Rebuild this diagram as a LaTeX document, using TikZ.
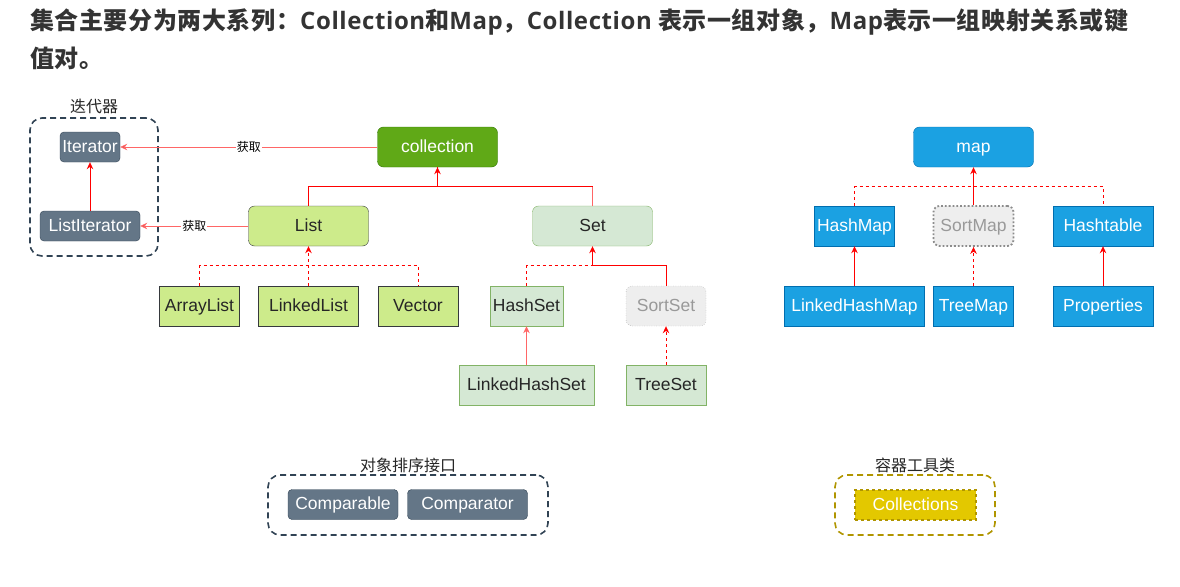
\documentclass[tikz,border=0pt]{standalone}
\usepackage{fontspec}
\setmainfont{Liberation Sans}
\newfontfamily\cjk{Noto Sans CJK SC}
\newfontfamily\titlecjk{Noto Sans CJK SC}[LetterSpace=2.5]
\newfontfamily\titlelatin{Open Sans}[LetterSpace=2.5]
\newcommand\titlelat[1]{{\titlelatin\bfseries #1}}
\usetikzlibrary{arrows.meta, positioning}

\definecolor{slatefill}{HTML}{647687}
\definecolor{slateline}{HTML}{314354}
\definecolor{collfill}{HTML}{60A917}
\definecolor{collline}{HTML}{2D7600}
\definecolor{listfill}{HTML}{CDEB8B}
\definecolor{listline}{HTML}{36393D}
\definecolor{setfill}{HTML}{D5E8D4}
\definecolor{setline}{HTML}{82B366}
\definecolor{mapfill}{HTML}{1BA1E2}
\definecolor{mapline}{HTML}{006EAF}
\definecolor{sortfill}{HTML}{EEEEEE}
\definecolor{sortline}{HTML}{8C8C8C}
\definecolor{toolfill}{HTML}{E3C800}
\definecolor{toolline}{HTML}{B09500}
\definecolor{titlecol}{HTML}{333333}
\definecolor{softred}{HTML}{FF6666}

\begin{document}
\begin{tikzpicture}[x=1pt, y=-1pt, node distance=80pt, on grid,
  >={Stealth[length=7pt, width=6.5pt]},
  box/.style={draw, inner sep=0pt, minimum height=40pt, text height=12.5pt, text depth=2pt, font=\fontsize{17.5}{20}\selectfont},
  slate/.style={box, rounded corners=4pt, fill=slatefill, draw=slateline, text=white, minimum height=30pt},
  coll/.style={box, rounded corners=6pt, fill=collfill, draw=collline, text=white, minimum width=120pt},
  listbox/.style={box, fill=listfill, draw=listline, text=black!85},
  setbox/.style={box, fill=setfill, draw=setline, text=black!85},
  mapbox/.style={box, fill=mapfill, draw=mapline, text=white},
  sortbox/.style={box, rounded corners=6pt, fill=sortfill, draw=sortline, dotted, text=black!40},
  toolbox/.style={box, fill=toolfill, draw=toolline, dashed, line width=1.2pt, text=white, minimum height=30pt},
  groupbox/.style={draw=slateline, line width=1.6pt, dash pattern=on 6pt off 4pt, rounded corners=12pt, inner sep=0pt},
  grouplabel/.style={font=\cjk\fontsize{16}{18}\selectfont, text=black!85, inner sep=0pt},
  fetch/.style={font=\cjk\fontsize{12}{14}\selectfont, fill=white, inner sep=1pt, text=black},
  redline/.style={draw=red, line width=1pt},
  softline/.style={draw=softred, line width=1pt},
  dashline/.style={draw=red, line width=1pt, dash pattern=on 3pt off 3pt}]
  \useasboundingbox (0,0) rectangle (1180,586);

  \node[anchor=north west, align=left, inner sep=0pt, text=titlecol,
        font=\titlecjk\bfseries\fontsize{24}{38}\selectfont] (title) at (30,9)
    {集合主要分为两大系列：\titlelat{Collection}和\titlelat{Map}，\titlelat{Collection} 表示一组对象，\titlelat{Map}表示一组映射关系或键\\值对。};

  \node[groupbox, minimum width=128pt, minimum height=138pt] (itergroup) at (94,187) {};
  \node[grouplabel] (iterlabel) [above=81pt of itergroup] {迭代器};
  \node[groupbox, minimum width=280pt, minimum height=60pt] (sortgroup) at (408,505) {};
  \node[grouplabel] (sortlabel) [above=40pt of sortgroup] {对象排序接口};
  \node[groupbox, draw=toolline, minimum width=160pt, minimum height=60pt] (toolgroup) at (915,505) {};
  \node[grouplabel] (toollabel) [above=40pt of toolgroup] {容器工具类};

  \node[coll] (collection) at (437.5,147) {collection};
  \node[slate, minimum width=60pt] (iterator) [left=347.5pt of collection] {Iterator};
  \node[slate, minimum width=100pt] (listiter) [below=79pt of iterator] {ListIterator};
  \node[listbox, rounded corners=6pt, minimum width=120pt] (list) [below left=79pt and 129pt of collection] {List};
  \node[setbox, rounded corners=6pt, minimum width=120pt] (set) [below right=79pt and 155pt of collection] {Set};
  \node[listbox, minimum width=100pt] (linkedlist) [below=of list] {LinkedList};
  \node[listbox, minimum width=80pt] (arraylist) [left=109pt of linkedlist] {ArrayList};
  \node[listbox, minimum width=80pt] (vector) [right=109.5pt of linkedlist] {Vector};
  \node[setbox, minimum width=73pt] (hashset) [below left=80pt and 66pt of set] {HashSet};
  \node[sortbox, minimum width=80pt] (sortset) [below right=80pt and 73.5pt of set] {SortSet};
  \node[setbox, minimum width=135pt] (lhashset) [below=79pt of hashset] {LinkedHashSet};
  \node[setbox, minimum width=80pt] (treeset) [below=79pt of sortset] {TreeSet};

  \node[mapbox, rounded corners=6pt, minimum width=120pt] (map) at (973.5,147) {map};
  \node[sortbox, line width=1.8pt, minimum width=80pt] (sortmap) [below=79pt of map] {SortMap};
  \node[mapbox, minimum width=80pt] (hashmap) [left=119pt of sortmap] {HashMap};
  \node[mapbox, minimum width=100pt] (hashtable) [right=129.5pt of sortmap] {Hashtable};
  \node[mapbox, minimum width=140pt] (lhashmap) [below=of hashmap] {LinkedHashMap};
  \node[mapbox, minimum width=80pt] (treemap) [below=of sortmap] {TreeMap};
  \node[mapbox, minimum width=100pt] (properties) [below=of hashtable] {Properties};

  \node[slate, minimum width=110pt] (comparable) at (343,504.5) {Comparable};
  \node[slate, minimum width=120pt] (comparator) [right=124.5pt of comparable] {Comparator};
  \node[toolbox, minimum width=121pt] (collections) at (915.5,505) {Collections};

  \path[->, softline]
  (collection) edge node[fetch] {获取} (iterator)
  (list) edge node[fetch] {获取} (listiter);
  \draw[->, redline] (listiter) -- (iterator);
  \draw[softline] (set.north) -- ++(0,-19) coordinate (setjoint);
  \draw[redline] (setjoint) -| (collection.south);
  \draw[->, redline] (list.north) -- ++(0,-19) -| (collection.south);
  \draw[dashline] (arraylist.north) -- ++(0,-20) -| (vector.north);
  \draw[->, dashline] (linkedlist) -- (list);
  \draw[dashline] (hashset.north) -- ++(0,-20) -| (set.south);
  \draw[->, redline] (sortset.north) -- ++(0,-20) -| (set.south);
  \draw[->, softline] (lhashset) -- (hashset);
  \draw[->, dashline] (treeset) -- (sortset);
  \draw[dashline] (hashmap.north) -- ++(0,-19) -| (hashtable.north);
  \draw[->, redline] (sortmap) -- (map);
  \draw[->, redline] (lhashmap) -- (hashmap);
  \draw[->, dashline] (treemap) -- (sortmap);
  \draw[->, redline] (properties) -- (hashtable);
\end{tikzpicture}
\end{document}
